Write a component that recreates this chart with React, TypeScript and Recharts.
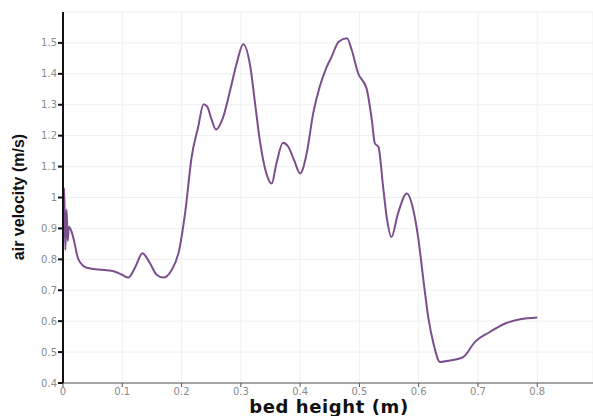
import { LineChart, Line, XAxis, YAxis, CartesianGrid } from 'recharts'

// bed height (m) and air velocity (m/s)
const heights = [
  0, 0.002, 0.004, 0.006, 0.008, 0.01, 0.016, 0.026, 0.04, 0.06, 0.084, 0.099, 0.11,
  0.122, 0.134, 0.146, 0.158, 0.169, 0.183, 0.196, 0.206, 0.217, 0.228, 0.237, 0.243,
  0.251, 0.258, 0.27, 0.282, 0.293, 0.304, 0.316, 0.324, 0.332, 0.343, 0.352, 0.36,
  0.371, 0.38, 0.39, 0.4, 0.411, 0.422, 0.433, 0.445, 0.453, 0.465, 0.479, 0.487,
  0.498, 0.512, 0.521, 0.526, 0.532, 0.54, 0.546, 0.554, 0.565, 0.58, 0.591, 0.599,
  0.608, 0.616, 0.625, 0.636, 0.653, 0.675, 0.695, 0.72, 0.748, 0.771, 0.8,
]
const velocities = [
  0.85, 1.03, 0.83, 0.96, 0.86, 0.905, 0.88, 0.8, 0.773, 0.767, 0.762, 0.751, 0.741,
  0.775, 0.82, 0.79, 0.75, 0.741, 0.765, 0.83, 0.95, 1.131, 1.228, 1.302, 1.295,
  1.25, 1.22, 1.259, 1.347, 1.434, 1.496, 1.423, 1.304, 1.185, 1.078, 1.045, 1.11,
  1.177, 1.164, 1.12, 1.078, 1.142, 1.272, 1.358, 1.423, 1.455, 1.504, 1.515, 1.477,
  1.401, 1.353, 1.25, 1.175, 1.164, 1.034, 0.937, 0.872, 0.948, 1.013, 0.959, 0.872,
  0.732, 0.614, 0.527, 0.468, 0.473, 0.484, 0.533, 0.565, 0.594, 0.606, 0.612,
]
const xTicks = [0, 0.1, 0.2, 0.3, 0.4, 0.5, 0.6, 0.7, 0.8]
const yTicks = [0.4, 0.5, 0.6, 0.7, 0.8, 0.9, 1, 1.1, 1.2, 1.3, 1.4, 1.5]

const data = heights.map((h, i) => ({ h, v: velocities[i] }))

const tickStyle = { fontSize: 10, fill: '#8a8a8a', fontFamily: 'DejaVu Sans' }

export default function App() {
  return (
    <div style={{ position: 'absolute', left: 0, top: 0, width: 593, height: 416, background: '#fff' }}>
      <LineChart width={593} height={416} data={data} margin={{ top: 12, right: 0, bottom: 0, left: 0 }}>
        <CartesianGrid stroke="#f0f0f0" />
        <XAxis
          dataKey="h"
          type="number"
          domain={[0, 0.894]}
          ticks={xTicks}
          allowDataOverflow
          tickFormatter={v => String(v)}
          tick={tickStyle}
          tickSize={4}
          tickMargin={1}
          stroke="#555"
          height={33}
          label={() => (
            <text
              x={329}
              y={413}
              textAnchor="middle"
              fontSize={18}
              letterSpacing={0.6}
              fontFamily="DejaVu Sans"
              fontWeight="bold"
              fill="#111"
            >
              bed height (m)
            </text>
          )}
        />
        <YAxis
          type="number"
          domain={[0.4, 1.6]}
          ticks={yTicks}
          tickFormatter={v => String(v)}
          tick={tickStyle}
          tickSize={5}
          tickMargin={1}
          stroke="#111"
          strokeWidth={2}
          width={63}
          label={() => (
            <text
              x={24}
              y={197}
              textAnchor="middle"
              fontSize={16}
              fontFamily="Liberation Sans"
              fontWeight="bold"
              fill="#111"
              transform="rotate(-90 24 197)"
            >
              air velocity (m/s)
            </text>
          )}
        />
        <Line
          dataKey="v"
          type="monotone"
          stroke="#7a4f8c"
          strokeWidth={2}
          dot={false}
          isAnimationActive={false}
        />
      </LineChart>
    </div>
  )
}
